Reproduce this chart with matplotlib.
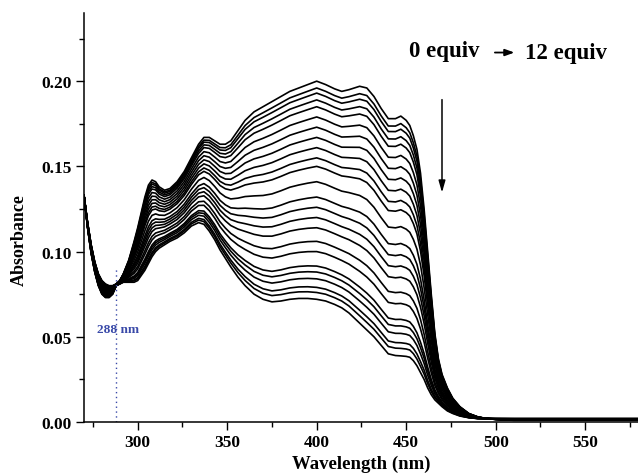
import numpy as np
import matplotlib
matplotlib.use("Agg")
import matplotlib.pyplot as plt
from matplotlib.ticker import MultipleLocator, FormatStrFormatter

plt.rcParams['font.family'] = ['Liberation Serif', 'DejaVu Serif']
plt.rcParams['font.weight'] = 'bold'

# Wavelength grid (nm)
wavelength = [270, 272, 274, 276, 278, 280, 282, 284, 286, 288, 290, 292, 295, 298,
              300, 302, 304, 306, 308, 310, 312, 315, 318, 322, 326, 330, 334, 337,
              340, 343, 346, 349, 352, 356, 360, 365, 370, 375, 380, 385, 390, 395,
              400, 405, 410, 414, 418, 424, 428, 432, 436, 440, 444, 447, 450, 452,
              454, 456, 458, 460, 462, 464, 466, 468, 470, 473, 476, 480, 485, 490,
              495, 500, 510, 520, 540, 560, 580]

# Spectrum at 0 equiv (top curve)
abs_0equiv = [0.133, 0.117, 0.104, 0.094, 0.087, 0.083, 0.081, 0.080, 0.080, 0.081,
              0.083, 0.087, 0.095, 0.106, 0.114, 0.123, 0.132, 0.139, 0.142, 0.141,
              0.138, 0.136, 0.137, 0.141, 0.147, 0.155, 0.163, 0.167, 0.167, 0.165,
              0.163, 0.163, 0.165, 0.171, 0.177, 0.182, 0.185, 0.188, 0.191, 0.194,
              0.196, 0.198, 0.200, 0.198, 0.1955, 0.194, 0.195, 0.197, 0.196, 0.191,
              0.184, 0.178, 0.178, 0.1795, 0.177, 0.174, 0.168, 0.160, 0.146, 0.125,
              0.100, 0.075, 0.052, 0.037, 0.028, 0.020, 0.014, 0.009, 0.005, 0.003,
              0.002, 0.0015, 0.001, 0.001, 0.001, 0.001, 0.001]

# Spectrum at 12 equiv (bottom curve)
abs_12equiv = [0.133, 0.114, 0.099, 0.088, 0.080, 0.075, 0.073, 0.073, 0.075, 0.080,
               0.081, 0.082, 0.082, 0.082, 0.083, 0.086, 0.089, 0.093, 0.097, 0.100,
               0.102, 0.104, 0.106, 0.108, 0.111, 0.115, 0.117, 0.116, 0.112, 0.107,
               0.101, 0.096, 0.091, 0.085, 0.080, 0.075, 0.072, 0.0705, 0.071, 0.072,
               0.0725, 0.0725, 0.072, 0.071, 0.069, 0.067, 0.064, 0.058, 0.054, 0.050,
               0.045, 0.040, 0.039, 0.0388, 0.0385, 0.038, 0.036, 0.033, 0.029, 0.025,
               0.020, 0.016, 0.013, 0.011, 0.009, 0.0065, 0.005, 0.0035, 0.0025, 0.002,
               0.002, 0.002, 0.002, 0.002, 0.002, 0.002, 0.002]

# Absorbance of each titration spectrum at 400 nm (0 -> 12 equiv)
abs_400 = [0.200, 0.196, 0.193, 0.189, 0.185, 0.179, 0.173, 0.167, 0.161, 0.155,
           0.150, 0.141, 0.132, 0.126, 0.120, 0.114, 0.106, 0.100, 0.0915, 0.088,
           0.084, 0.079, 0.076, 0.072]

wl = np.array(wavelength)
top = np.array(abs_0equiv)
bot = np.array(abs_12equiv)
i400 = wavelength.index(400)

fig = plt.figure(figsize=(6.38, 4.77), dpi=100)
ax = fig.add_axes([84/638, 1-423/477, 1-84/638, (423-14)/477])

for a in abs_400:
    f = (a - bot[i400]) / (top[i400] - bot[i400])
    ax.plot(wl, bot + f * (top - bot), color='black', lw=1.2, solid_joinstyle='round')

ax.set_xlim(270, 579.5)
ax.set_ylim(0, 0.24)

for s in ['top', 'right']:
    ax.spines[s].set_visible(False)
for s in ['left', 'bottom']:
    ax.spines[s].set_linewidth(1.1)

ax.xaxis.set_major_locator(MultipleLocator(50))
ax.xaxis.set_minor_locator(MultipleLocator(25))
ax.yaxis.set_major_formatter(FormatStrFormatter('%.2f'))
ax.set_yticks([0.0, 0.05, 0.10, 0.15, 0.20])
ax.set_yticks([0.025, 0.075, 0.125, 0.175, 0.225], minor=True)
ax.tick_params(which='major', direction='out', length=5.5, width=1.0, labelsize=12.5)
ax.tick_params(which='minor', direction='out', length=3.5, width=1.0)
for lab in ax.get_xticklabels() + ax.get_yticklabels():
    lab.set_fontweight('bold')

ax.set_xlabel('Wavelength (nm)', fontsize=13.5, fontweight='bold')
ax.xaxis.set_label_coords(0.5, -0.101)
ax.xaxis.label.set_va('center')
ax.set_ylabel('Absorbance', fontsize=13, fontweight='bold')
ax.yaxis.set_label_coords(-0.117, 0.447)
ax.yaxis.label.set_va('center')

# isosbestic point marker
ax.plot([288, 288], [0, 0.091], color='#3949a8', lw=1.0, ls=(0, (1, 2.5)))
ax.text(288.8, 0.0545, '288 nm', color='#3949a8', fontsize=9.5, fontweight='bold',
        ha='center', va='center')

# annotations
ax.text(451.6, 0.2178, '0 equiv', fontsize=16.5, fontweight='bold', ha='left', va='center')
ax.text(516.4, 0.2168, '12 equiv', fontsize=16.5, fontweight='bold', ha='left', va='center')
ax.annotate('', xy=(512, 0.2168), xytext=(498, 0.2168),
            arrowprops=dict(arrowstyle='-|>,head_length=0.55,head_width=0.2', color='black', lw=1.3))
ax.annotate('', xy=(470, 0.133), xytext=(470, 0.1908),
            arrowprops=dict(arrowstyle='-|>,head_length=0.7,head_width=0.2', color='black', lw=1.1))

fig.savefig('out.png', dpi=100)
